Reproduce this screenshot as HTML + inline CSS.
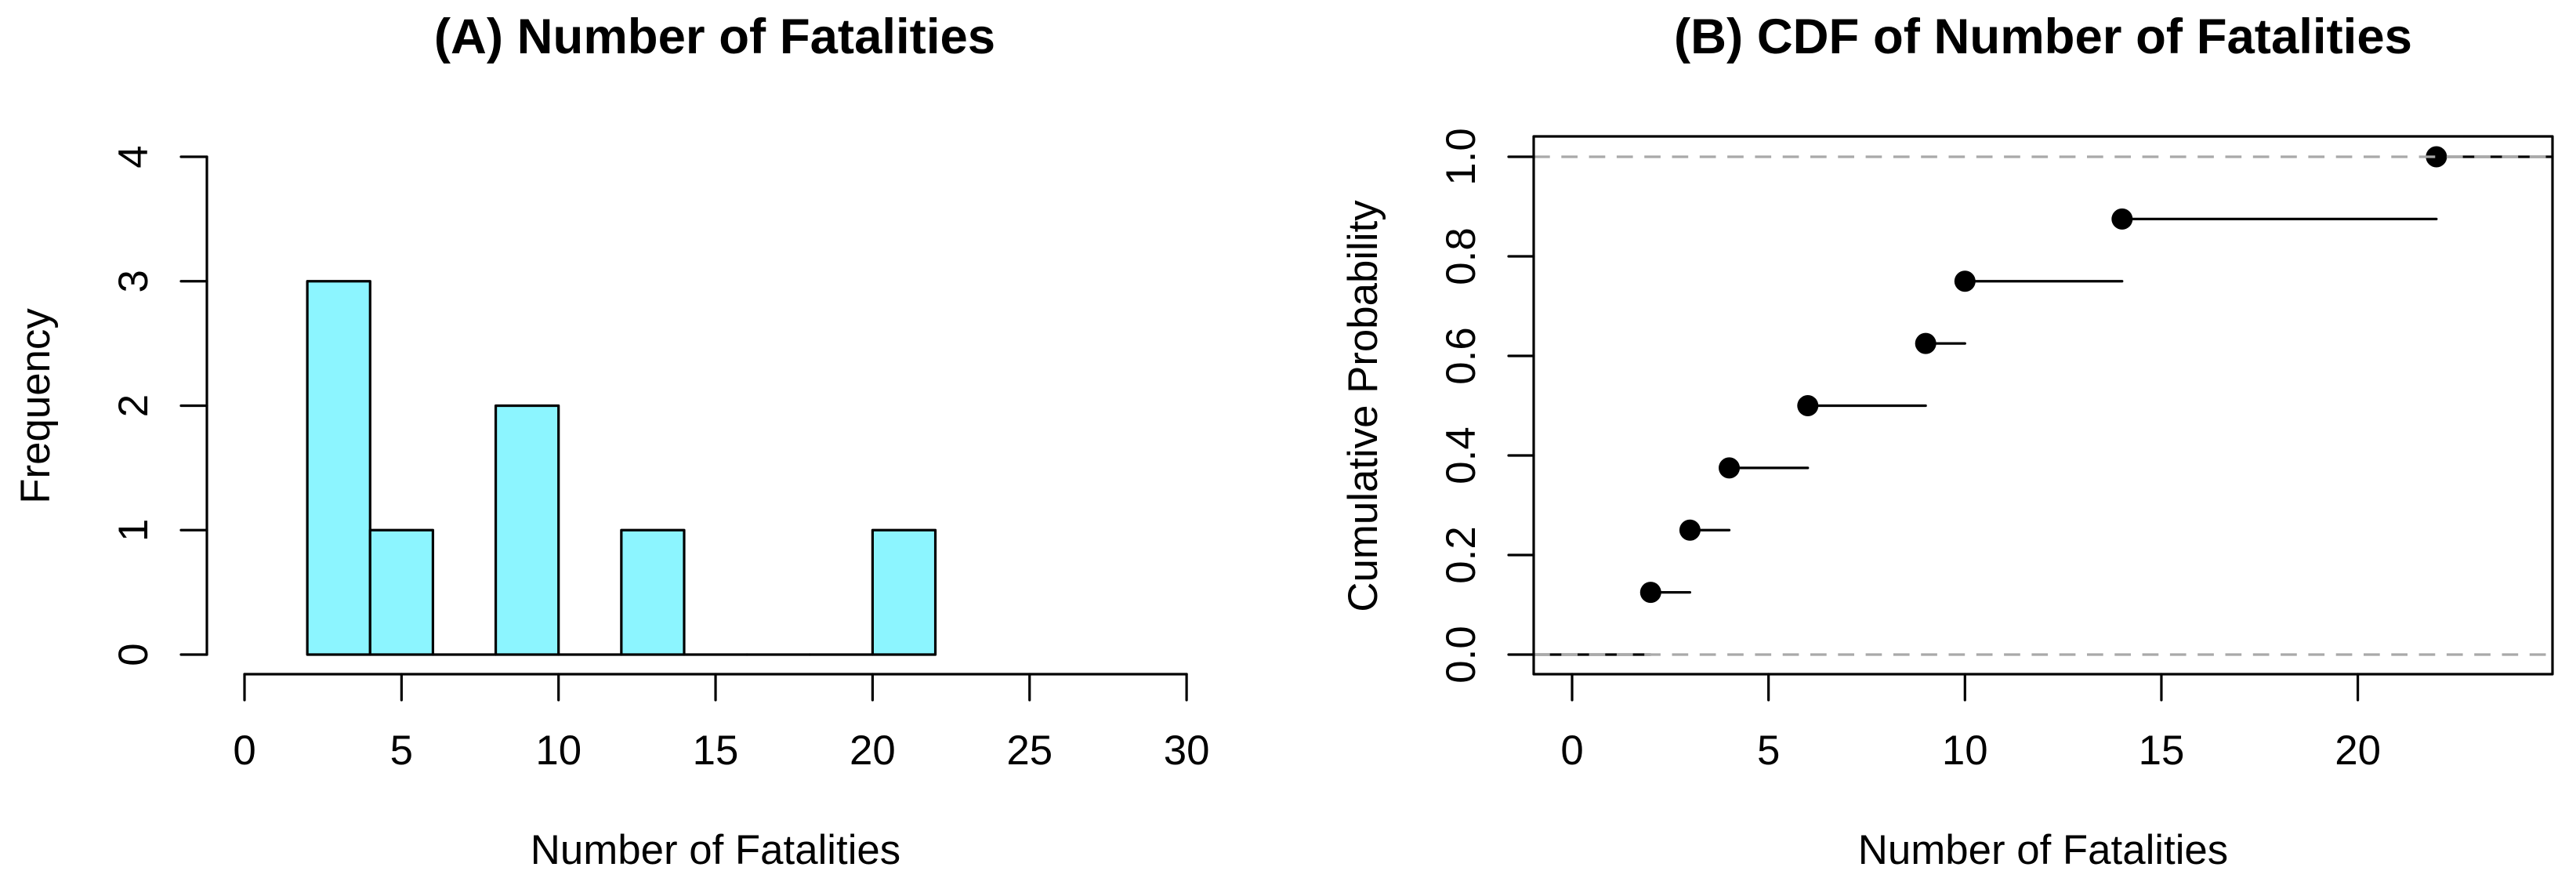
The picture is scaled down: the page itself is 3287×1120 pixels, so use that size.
<!DOCTYPE html>
<html lang="en">
<head>
<meta charset="utf-8">
<title>Number of Fatalities</title>
<style>
html,body{margin:0;padding:0;background:#fff;width:3287px;height:1120px;overflow:hidden}
svg{display:block}
text{font-family:"Liberation Sans",Arial,sans-serif;fill:#000}
.lab{font-size:52.8px}
.main{font-size:63.5px;font-weight:bold}
</style>
</head>
<body>
<svg id="fig" xmlns="http://www.w3.org/2000/svg" width="3287" height="1120" viewBox="0 0 3287 1120">
  <rect width="3287" height="1120" fill="#ffffff"/>
  <text class="main" x="912" y="68" text-anchor="middle">(A) Number of Fatalities</text>
  <text class="main" x="2607" y="68" text-anchor="middle">(B) CDF of Number of Fatalities</text>
  <text class="lab" x="913" y="1102" text-anchor="middle">Number of Fatalities</text>
  <text class="lab" x="2607" y="1102" text-anchor="middle">Number of Fatalities</text>
  <text class="lab" transform="translate(63,518) rotate(-90)" text-anchor="middle">Frequency</text>
  <text class="lab" transform="translate(1757,518) rotate(-90)" text-anchor="middle">Cumulative Probability</text>
  <g id="hist"></g>
  <g id="cdf"></g>
</svg>
<script>
// Histogram data
const histBreaks = [2,4,6,8,10,12,14,16,18,20,22];
const histCounts = [3,1,0,2,0,1,0,0,0,1];
const histXTicks = [0,5,10,15,20,25,30];
const histYTicks = [0,1,2,3,4];
// CDF data
const cdfX = [2,3,4,6,9,10,14,22];
const cdfY = [0.125,0.25,0.375,0.5,0.625,0.75,0.875,1];
const cdfXTicks = [0,5,10,15,20];
const cdfYTicks = ['0.0','0.2','0.4','0.6','0.8','1.0'];
const cdfRefLines = [0,1];

const NS = 'http://www.w3.org/2000/svg';
const LW = 3.2;
const histXScale = v => 312 + v * 40.07;
const histYScale = v => 835 - v * 158.75;
const cdfXScale = v => 2006 + v * 50.13;
const cdfYScale = v => 835 - v * 635;
const cdfLeft = 1957, cdfRight = 3257, cdfTop = 174, cdfBottom = 860;

function make(tag, attrs, parent) {
  const el = document.createElementNS(NS, tag);
  for (const k in attrs) el.setAttribute(k, attrs[k]);
  parent.appendChild(el);
  return el;
}
function line(parent, x1, y1, x2, y2, stroke, cap) {
  return make('line', {x1, y1, x2, y2, stroke: stroke || '#000', 'stroke-width': LW, 'stroke-linecap': cap || 'round'}, parent);
}
function tickText(parent, str, x, y, rotated) {
  const attrs = {class: 'lab', 'text-anchor': 'middle'};
  if (rotated) { attrs.transform = 'translate(' + x + ',' + y + ') rotate(-90)'; }
  else { attrs.x = x; attrs.y = y; }
  const t = make('text', attrs, parent);
  t.textContent = str;
  return t;
}

const hist = document.getElementById('hist');
histCounts.forEach((c, i) => {
  const x0 = histXScale(histBreaks[i]), x1 = histXScale(histBreaks[i + 1]);
  const yTop = histYScale(c), yBase = histYScale(0);
  const d = 'M' + x0 + ' ' + yBase + 'L' + x0 + ' ' + yTop + 'L' + x1 + ' ' + yTop + 'L' + x1 + ' ' + yBase + 'Z';
  const bar = make('path', {d: d, fill: '#8cf5ff', stroke: '#000', 'stroke-width': LW, 'stroke-linejoin': 'round', 'stroke-linecap': 'round'}, hist);
  
  
});
const hxLine = line(hist, histXScale(histXTicks[0]), 860, histXScale(histXTicks[histXTicks.length - 1]), 860);


histXTicks.forEach(v => {
  const x = histXScale(v);
  const tick = line(hist, x, 860, x, 893);
  
  
  const label = tickText(hist, String(v), x, 975, false);
  
  
});
const hyLine = line(hist, 264, histYScale(histYTicks[0]), 264, histYScale(histYTicks[histYTicks.length - 1]));


histYTicks.forEach(v => {
  const y = histYScale(v);
  const tick = line(hist, 231, y, 264, y);
  
  
  const label = tickText(hist, String(v), 188, y, true);
  
  
});

const cdf = document.getElementById('cdf');
cdfX.forEach((x, i) => {
  const nextX = i + 1 < cdfX.length ? cdfXScale(cdfX[i + 1]) : cdfRight;
  const seg = line(cdf, cdfXScale(x), cdfYScale(cdfY[i]), nextX, cdfYScale(cdfY[i]));
  
  
});
const startSeg = line(cdf, cdfLeft, cdfYScale(0), cdfXScale(cdfX[0]), cdfYScale(0));


cdfX.forEach((x, i) => {
  const dot = make('circle', {cx: cdfXScale(x), cy: cdfYScale(cdfY[i]), r: 13.5, fill: '#000'}, cdf);
  
  
});
cdfRefLines.forEach(v => {
  const ref = make('line', {x1: cdfLeft, y1: cdfYScale(v), x2: cdfRight, y2: cdfYScale(v), stroke: '#a9a9a9', 'stroke-width': LW, 'stroke-dasharray': '20.7 14.6'}, cdf);
  
  
});
const box = make('rect', {x: cdfLeft, y: cdfTop, width: cdfRight - cdfLeft, height: cdfBottom - cdfTop, fill: 'none', stroke: '#000', 'stroke-width': LW, 'stroke-linejoin': 'round'}, cdf);


cdfXTicks.forEach(v => {
  const x = cdfXScale(v);
  const tick = line(cdf, x, cdfBottom, x, 893);
  
  
  const label = tickText(cdf, String(v), x, 975, false);
  
  
});
cdfYTicks.forEach(v => {
  const y = cdfYScale(parseFloat(v));
  const tick = line(cdf, 1925, y, cdfLeft, y);
  
  
  const label = tickText(cdf, v, 1882, y, true);
  
  
});
</script>
</body>
</html>
